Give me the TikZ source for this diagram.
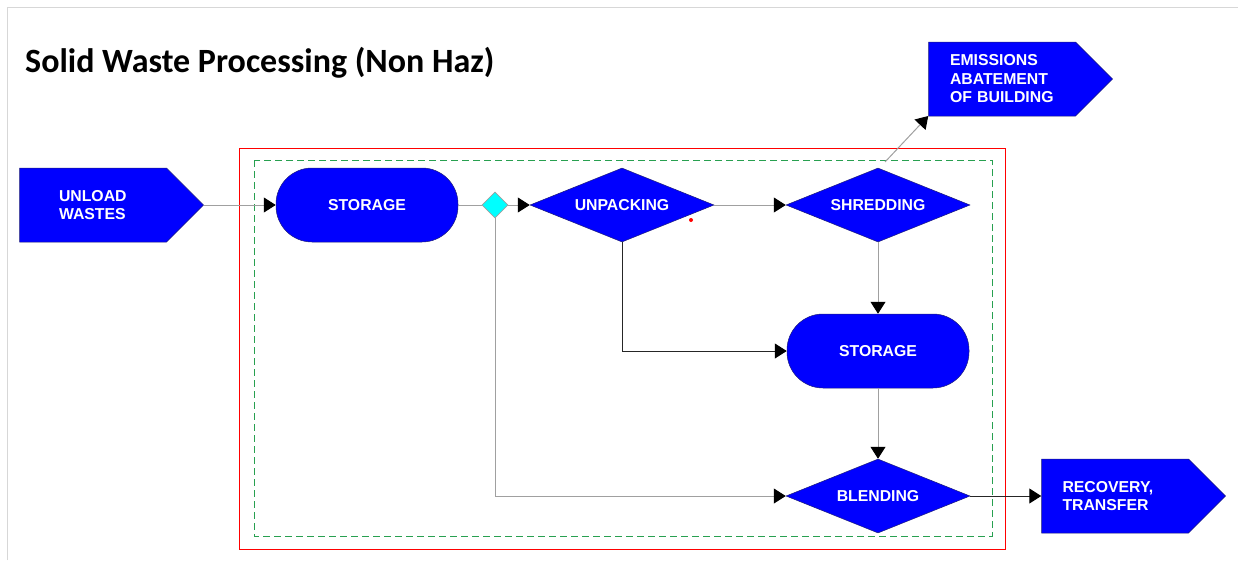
\documentclass[tikz,border=0pt]{standalone}
\usepackage{fontspec}
\setmainfont{Liberation Sans}
\newfontfamily\titlefont{Carlito}
\usetikzlibrary{shapes.geometric,shapes.symbols,arrows.meta,calc}
\definecolor{procblue}{RGB}{0,0,255}
\definecolor{edgegray}{RGB}{160,160,160}
\definecolor{framegray}{RGB}{215,215,215}
\definecolor{dashgreen}{RGB}{40,160,80}
\definecolor{outline}{RGB}{30,30,120}
\definecolor{juncfill}{RGB}{0,255,255}
\tikzset{
  shapetext/.style={text=white, font=\fontsize{15.8}{18.5}\selectfont\bfseries},
  inout/.style={shapetext, signal, signal to=east, signal pointer angle=90,
    fill=procblue, draw=outline, line width=0.5pt, minimum width=184, minimum height=74,
    align=left, inner sep=0pt},
  stadium/.style={shapetext, rectangle, rounded corners=36, fill=procblue, draw=outline,
    line width=0.5pt, minimum width=182, minimum height=74, inner sep=0pt},
  decision/.style={shapetext, diamond, aspect=2.5, fill=procblue, draw=outline,
    line width=0.5pt, minimum width=184, minimum height=74, inner sep=0pt},
  junction/.style={diamond, fill=juncfill, draw=edgegray, line width=0.6pt, minimum width=26,
    minimum height=26, inner sep=0pt},
  flow/.style={draw=edgegray, line width=1pt, -{Triangle[length=12, width=15, color=black]}},
  darkflow/.style={draw=black!85, line width=1pt, -{Triangle[length=12, width=15, color=black]}},
  plainline/.style={draw=edgegray, line width=1pt},
}
\begin{document}
\begin{tikzpicture}[x=1pt,y=-1pt]
\useasboundingbox (0,0) rectangle (1238,560);
% page frame
\draw[framegray, line width=1pt] (7,560) -- (7,7) -- (1238,7);
% title
\node[anchor=base west, inner sep=0pt, font=\titlefont\bfseries\fontsize{34}{37}\selectfont] (title) at (25,72) {Solid Waste Processing (Non Haz)};
% frames
\draw[red, line width=0.8pt] (239,148) rectangle (1005,549);
\draw[dashgreen, line width=0.8pt, dash pattern=on 7pt off 4pt] (254,160) rectangle (992,536);
% nodes
\node[inout, text width=68] (unload) at (93,205) {UNLOAD\\WASTES};
\node[stadium] (store1) at (367,205) {STORAGE};
\node[junction] (junc) at (495,205) {};
\node[decision] (unpack) at (622,205) {UNPACKING};
\node[decision] (shred) at (878,205) {SHREDDING};
\node[stadium] (store2) at (878,351) {STORAGE};
\node[decision] (blend) at (878,496) {BLENDING};
\node[inout, text width=104] (emis) at (1002,79) {EMISSIONS\\ABATEMENT\\OF BUILDING};
\node[inout, text width=105] (recov) at (1115,496) {RECOVERY,\\TRANSFER};
\coordinate (emstart) at (885,162);
% red dot
\fill[red] (691,220) circle (2);
% connectors
\draw[flow] (unload.east) -- (store1.west);
\draw[plainline] (store1.east) -- (junc.west);
\draw[flow] (junc.east) -- (unpack.west);
\draw[flow] (unpack.east) -- (shred.west);
\draw[flow] (emstart) -- ($(emis.west)+(0,37)$);
\draw[flow] (shred.south) -- (store2.north);
\draw[darkflow] (unpack.south) |- (store2.west);
\draw[flow] (store2.south) -- (blend.north);
\draw[flow] (junc.south) |- (blend.west);
\draw[darkflow] (blend.east) -- (recov.west);
\end{tikzpicture}
\end{document}
